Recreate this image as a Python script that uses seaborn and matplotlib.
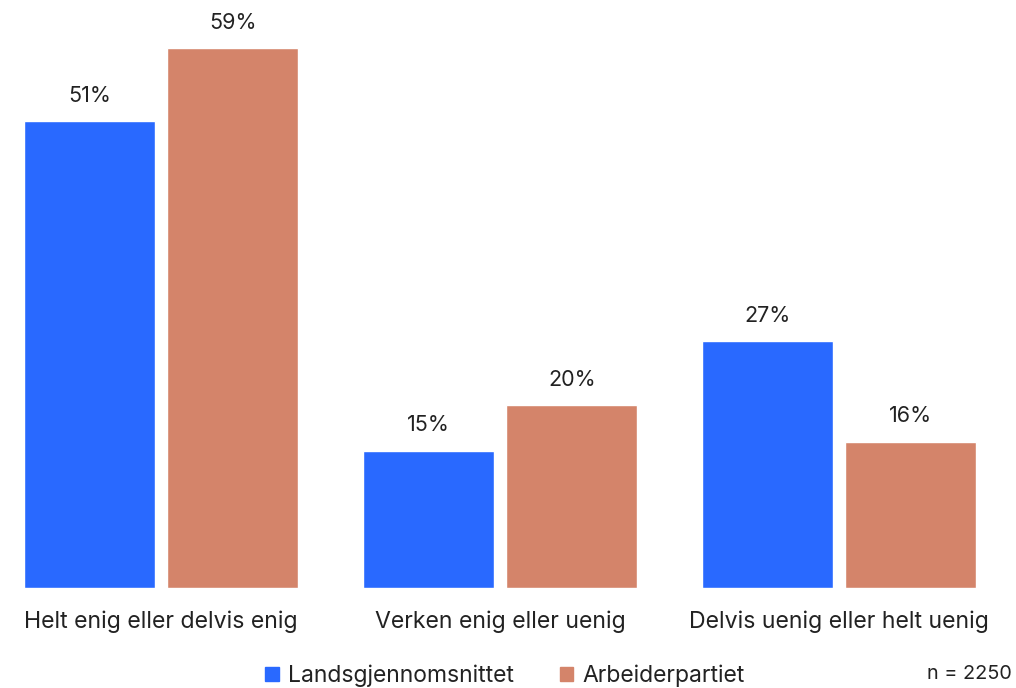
import pandas as pd
import matplotlib.pyplot as plt
import seaborn as sns

# Data
categories = ["Helt enig eller delvis enig", "Verken enig eller uenig", "Delvis uenig eller helt uenig"]
landsgjennomsnittet = [51, 15, 27]
arbeiderpartiet = [59, 20, 16]
series_names = ["Landsgjennomsnittet", "Arbeiderpartiet"]
colors = ["#2969FF", "#D4846A"]

df = pd.DataFrame({
    "Kategori": categories * 2,
    "Andel": landsgjennomsnittet + arbeiderpartiet,
    "Gruppe": [series_names[0]] * 3 + [series_names[1]] * 3,
})

sns.set_theme(style="white")
plt.rcParams["font.family"] = ["Inter", "DejaVu Sans"]

fig = plt.figure(figsize=(10.16, 6.88), dpi=100)
ax = fig.add_axes([0, 1 - 588 / 688, 1, 588 / 688])

sns.barplot(data=df, x="Kategori", y="Andel", hue="Gruppe", palette=colors,
            width=0.847, gap=0.087, saturation=1, ax=ax, legend=False)

for container in ax.containers:
    ax.bar_label(container, labels=[f"{v:.0f}%" for v in container.datavalues],
                 padding=11, fontsize=15.5, color="#222222")

ax.set_xlim(-161 / 339, (1016 - 161) / 339)
ax.set_ylim(0, 588 / 9.15)
ax.set_xlabel("")
ax.set_ylabel("")
ax.set_yticks([])
ax.tick_params(axis="x", length=0, labelsize=16.6, labelcolor="#222222", pad=16)
sns.despine(ax=ax, left=True, bottom=True)

handles = [plt.Rectangle((0, 0), 1, 1, color=c) for c in colors]
fig.legend(handles, series_names, loc="center", bbox_to_anchor=(505 / 1016, 1 - 676 / 688),
           ncol=2, frameon=False, fontsize=16.5, handlelength=0.6, handleheight=0.6,
           handletextpad=0.4, columnspacing=2.0, labelcolor="#222222")

fig.text(1012 / 1016, 1 - 674 / 688, "n = 2250", ha="right", va="center",
         fontsize=14.3, color="#222222")

fig.savefig("out.png", dpi=100)
